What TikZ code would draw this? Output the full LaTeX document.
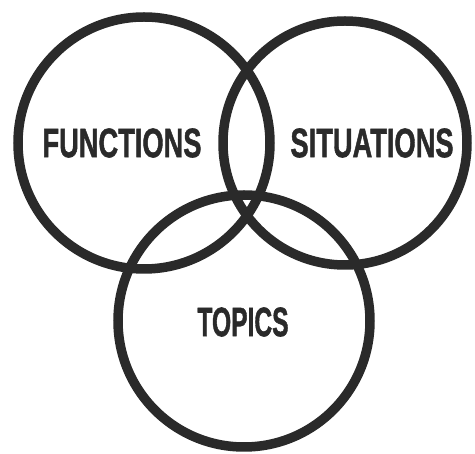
\documentclass[tikz,border=0pt]{standalone}
\usepackage{fontspec}
\setmainfont{Liberation Sans}
\newfontfamily\heavyfont[FakeBold=1.6]{Liberation Sans Bold}
\definecolor{ink}{HTML}{2A2A2A}
\begin{document}
\begin{tikzpicture}[x=1pt,y=-1pt,
  ring/.style={circle,draw=ink,line width=9.5pt,inner sep=0pt,outer sep=0pt},
  label/.style={text=ink,inner sep=0pt,font=\fontsize{41}{41}\heavyfont}]
\useasboundingbox (0,0) rectangle (475,454);
\node[ring,minimum size=252pt] (fc) at (144,143) {};
\node[ring,minimum size=244pt] (sc) at (345,143) {};
\node[ring,minimum size=252pt] (tc) at (244,321) {};
\node[label] (f) at (122,143) {\scalebox{0.665}[1]{FUNCTIONS}};
\node[label] (s) at (372,143) {\scalebox{0.665}[1]{SITUATIONS}};
\node[label] (t) at (243,322) {\scalebox{0.6}[1]{TOPICS}};
\end{tikzpicture}
\end{document}
